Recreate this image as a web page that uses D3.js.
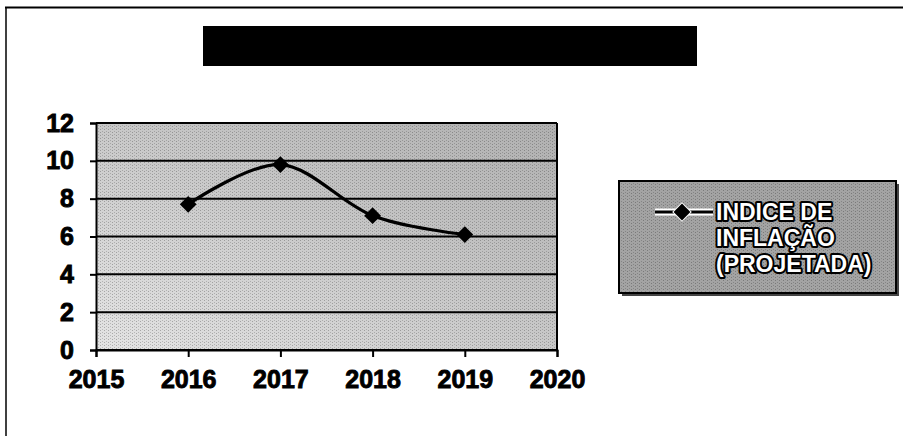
<!DOCTYPE html>
<html>
<head>
<meta charset="utf-8">
<script src="https://cdn.jsdelivr.net/npm/d3@7"></script>
<style>
  body { margin: 0; background: #fff; overflow: hidden; }
  svg { display: block; font-family: "Liberation Sans", Arial, sans-serif; }
</style>
</head>
<body>
<svg id="chart"></svg>
<script>
// Data
var years = [2016, 2017, 2018, 2019];
var inflation = [7.7, 9.8, 7.1, 6.1];
var yTicks = [0, 2, 4, 6, 8, 10, 12];
var xTicks = [2015, 2016, 2017, 2018, 2019, 2020];
var seriesName = ["INDICE DE", "INFLAÇÃO", "(PROJETADA)"];

var width = 903, height = 436;
var plot = { left: 96, right: 557, top: 123, bottom: 350 };

var svg = d3.select('#chart').attr('width', width).attr('height', height);
var defs = svg.append('defs');

// gray fills standing in for the scanned dither
var grad = defs.append('linearGradient').attr('id', 'plotFill')
    .attr('x1', '0').attr('y1', '1').attr('x2', '1').attr('y2', '0');
grad.append('stop').attr('offset', '0%').attr('stop-color', '#e4e4e4');
grad.append('stop').attr('offset', '55%').attr('stop-color', '#c6c6c6');
grad.append('stop').attr('offset', '100%').attr('stop-color', '#b0b0b0');

var pat = defs.append('pattern').attr('id', 'dots')
    .attr('width', 4).attr('height', 3).attr('patternUnits', 'userSpaceOnUse');
pat.append('rect').attr('width', 1).attr('height', 1).attr('fill', '#000').attr('opacity', 0.25);
pat.append('rect').attr('x', 2).attr('y', 2).attr('width', 1).attr('height', 1).attr('fill', '#000').attr('opacity', 0.18);

// outer frame: top and left edges only are in the photo
svg.append('line').attr('x1', 5).attr('x2', width).attr('y1', 7.5).attr('y2', 7.5)
    .attr('stroke', '#000').attr('stroke-width', 2);
svg.append('line').attr('x1', 6).attr('x2', 6).attr('y1', 7).attr('y2', height)
    .attr('stroke', '#000').attr('stroke-width', 1.5);

// title box (black)
svg.append('rect').attr('x', 203).attr('y', 26).attr('width', 494).attr('height', 40)
    .attr('fill', '#000');

var x = d3.scaleLinear().domain([2015, 2020]).range([plot.left, plot.right]);
var y = d3.scaleLinear().domain([0, 12]).range([plot.bottom, plot.top]);

// plot area
svg.append('rect').attr('x', plot.left).attr('y', plot.top)
    .attr('width', plot.right - plot.left).attr('height', plot.bottom - plot.top)
    .attr('fill', 'url(#plotFill)');
svg.append('rect').attr('x', plot.left).attr('y', plot.top)
    .attr('width', plot.right - plot.left).attr('height', plot.bottom - plot.top)
    .attr('fill', 'url(#dots)');

// gridlines
svg.append('g').selectAll('line').data(yTicks).enter().append('line')
    .attr('x1', plot.left).attr('x2', plot.right)
    .attr('y1', function (d) { return y(d); }).attr('y2', function (d) { return y(d); })
    .attr('stroke', '#000').attr('stroke-width', 2);

// right border of plot area
svg.append('line').attr('x1', plot.right).attr('x2', plot.right)
    .attr('y1', plot.top).attr('y2', plot.bottom)
    .attr('stroke', '#000').attr('stroke-width', 2);

// axes
var yAxis = svg.append('g').attr('transform', 'translate(' + plot.left + ',0)')
    .call(d3.axisLeft(y).tickValues(yTicks).tickSize(6).tickPadding(16).tickFormat(d3.format('d')));
var xAxis = svg.append('g').attr('transform', 'translate(0,' + plot.bottom + ')')
    .call(d3.axisBottom(x).tickValues(xTicks).tickSize(7).tickPadding(13).tickFormat(d3.format('d')));

[yAxis, xAxis].forEach(function (ax) {
    ax.select('.domain').attr('stroke', '#000').attr('stroke-width', 2);
    ax.selectAll('.tick line').attr('stroke', '#000').attr('stroke-width', 2);
    ax.selectAll('.tick text').attr('fill', '#000')
        .attr('stroke', '#000').attr('stroke-width', 0.9)
        .style('font-family', '"Liberation Sans", Arial, sans-serif')
        .style('font-weight', 'bold').style('font-size', '25px');
});

// series line, smoothed like Excel
var pts = years.map(function (yr, i) { return [x(yr), y(inflation[i])]; });
var line = d3.line().curve(d3.curveCatmullRom.alpha(0));
svg.append('path').attr('d', line(pts))
    .attr('fill', 'none').attr('stroke', '#000').attr('stroke-width', 3.2);

var diamond = d3.symbol().type(d3.symbolDiamond2).size(180);
svg.append('g').selectAll('path').data(pts).enter().append('path')
    .attr('d', diamond)
    .attr('transform', function (d) { return 'translate(' + d[0] + ',' + d[1] + ')'; })
    .attr('fill', '#000');

// legend
var lg = svg.append('g').attr('transform', 'translate(619,181)');
lg.append('rect').attr('x', 3).attr('y', 3).attr('width', 277).attr('height', 112).attr('fill', '#444');
lg.append('rect').attr('width', 277).attr('height', 112).attr('fill', '#a3a3a3')
    .attr('stroke', '#000').attr('stroke-width', 2);
lg.append('rect').attr('width', 277).attr('height', 112).attr('fill', 'url(#dots)');
lg.append('line').attr('x1', 36).attr('x2', 94).attr('y1', 31).attr('y2', 31)
    .attr('stroke', '#fff').attr('stroke-width', 7);
lg.append('line').attr('x1', 36).attr('x2', 94).attr('y1', 31).attr('y2', 31)
    .attr('stroke', '#000').attr('stroke-width', 3);
lg.append('path').attr('d', diamond).attr('transform', 'translate(63,31)')
    .attr('fill', '#000').attr('stroke', '#fff').attr('stroke-width', 2).attr('paint-order', 'stroke');

lg.append('g').selectAll('text').data(seriesName).enter().append('text')
    .attr('x', 97).attr('y', function (d, i) { return 39 + i * 26; })
    .text(function (d) { return d; })
    .attr('fill', '#fff').attr('stroke', '#000').attr('stroke-width', 4)
    .attr('paint-order', 'stroke').attr('stroke-linejoin', 'round')
    .style('font-weight', 'bold').style('font-size', '23px').style('letter-spacing', '0px');
</script>
</body>
</html>
